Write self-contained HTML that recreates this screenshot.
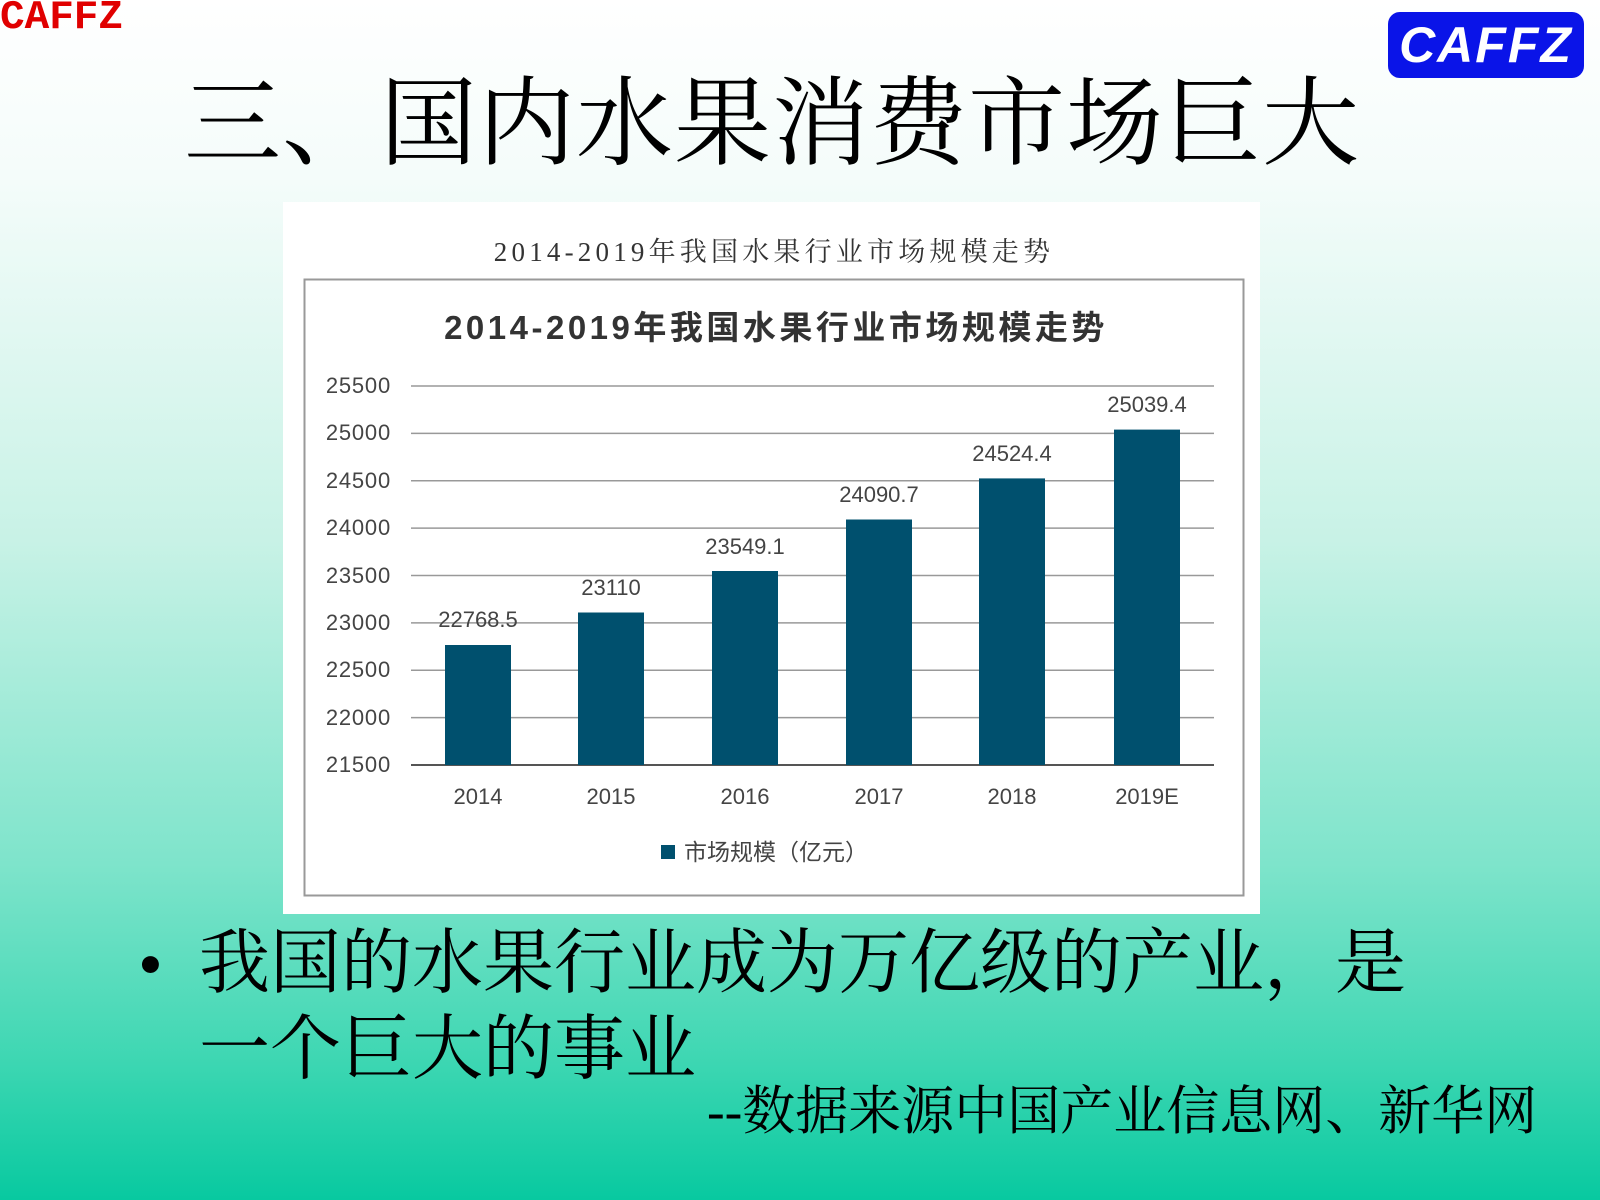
<!DOCTYPE html>
<html><head><meta charset="utf-8"><style>
html,body{margin:0;padding:0}
body{width:1600px;height:1200px;position:relative;overflow:hidden;
background:linear-gradient(180deg,#ffffff 0%,#f4fcfa 15%,#c8f2e6 45%,#7ee4cb 72%,#3fd7b3 88%,#08c9a0 100%);
font-family:"Liberation Serif","Noto Serif CJK SC",serif;}
.abs{position:absolute;white-space:nowrap}
</style></head><body>
<div class="abs" style="left:0;top:-5px;color:#e00000;font:bold 41px 'Liberation Mono',monospace;">CAFFZ</div>
<div class="abs" style="left:1388px;top:12px;width:196px;height:66px;background:#0a14e8;border-radius:12px;color:#fff;font:900 50px/66px 'Liberation Sans',sans-serif;text-align:center;letter-spacing:2px;font-style:italic">CAFFZ</div>
<div class="abs" style="left:184px;top:70px;font-size:97px;line-height:110px;color:#000;letter-spacing:1px">三、国内水果消费市场巨大</div>
<svg class="abs" style="left:0;top:0" width="1600" height="1200" font-family="'Liberation Sans','Noto Sans CJK SC',sans-serif">
<rect x="283" y="202" width="977" height="712" fill="#fff"/>
<rect x="304.5" y="279.5" width="939" height="616" fill="none" stroke="#999" stroke-width="2"/>
<text x="774" y="261" font-size="27" letter-spacing="4.2" text-anchor="middle" fill="#333" font-family="'Liberation Serif','Noto Serif CJK SC',serif">2014-2019年我国水果行业市场规模走势</text>
<text x="776" y="339" font-size="33" letter-spacing="3.5" font-weight="bold" text-anchor="middle" fill="#333">2014-2019年我国水果行业市场规模走势</text>
<g stroke="#999" stroke-width="1.5">
<line x1="411" x2="1214" y1="386" y2="386"/><line x1="411" x2="1214" y1="433.4" y2="433.4"/>
<line x1="411" x2="1214" y1="480.8" y2="480.8"/><line x1="411" x2="1214" y1="528.1" y2="528.1"/>
<line x1="411" x2="1214" y1="575.5" y2="575.5"/><line x1="411" x2="1214" y1="622.9" y2="622.9"/>
<line x1="411" x2="1214" y1="670.3" y2="670.3"/><line x1="411" x2="1214" y1="717.6" y2="717.6"/>
</g>
<line x1="411" x2="1214" y1="765" y2="765" stroke="#555" stroke-width="2"/>
<g font-size="22" fill="#444" text-anchor="end" letter-spacing="0.8">
<text x="391" y="393">25500</text><text x="391" y="440">25000</text><text x="391" y="488">24500</text>
<text x="391" y="535">24000</text><text x="391" y="583">23500</text><text x="391" y="630">23000</text>
<text x="391" y="677">22500</text><text x="391" y="725">22000</text><text x="391" y="772">21500</text>
</g>
<g fill="#00506e">
<rect x="445" y="645" width="66" height="120"/>
<rect x="578" y="612.5" width="66" height="152.5"/>
<rect x="712" y="571" width="66" height="194"/>
<rect x="846" y="519.5" width="66" height="245.5"/>
<rect x="979" y="478.4" width="66" height="286.6"/>
<rect x="1114" y="429.6" width="66" height="335.4"/>
</g>
<g font-size="22" fill="#444" text-anchor="middle">
<text x="478" y="627">22768.5</text><text x="611" y="595">23110</text><text x="745" y="554">23549.1</text>
<text x="879" y="502">24090.7</text><text x="1012" y="461">24524.4</text><text x="1147" y="412">25039.4</text>
<text x="478" y="804">2014</text><text x="611" y="804">2015</text><text x="745" y="804">2016</text>
<text x="879" y="804">2017</text><text x="1012" y="804">2018</text><text x="1147" y="804">2019E</text>
</g>
<rect x="661" y="845" width="14" height="14" fill="#00506e"/>
<text x="684" y="860" font-size="23" fill="#444">市场规模（亿元）</text>
</svg>
<div class="abs" style="left:138px;top:922px;font-size:71px;line-height:86px;color:#000">•</div>
<div class="abs" style="left:199px;top:921px;font-size:71px;line-height:86px;color:#000">我国的水果行业成为万亿级的产业，是<br>一个巨大的事业</div>
<div class="abs" style="left:707px;top:1082px;font-size:53px;line-height:60px;color:#000">--数据来源中国产业信息网、新华网</div>
</body></html>
